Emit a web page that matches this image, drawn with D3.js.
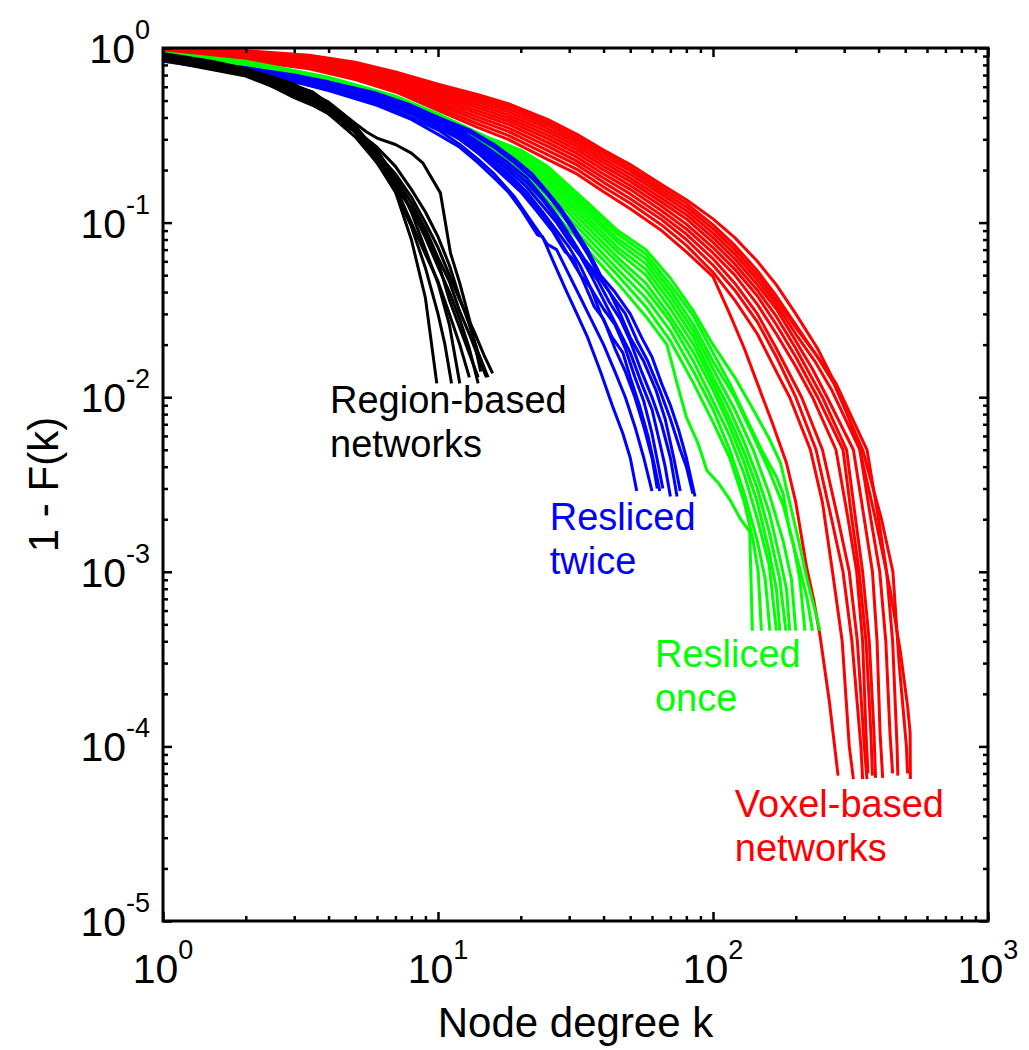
<!DOCTYPE html>
<html>
<head>
<meta charset="utf-8">
<script src="https://cdn.jsdelivr.net/npm/d3@7"></script>
<style>
    body { margin: 0; background: #fff; }
    text { font-family: "Liberation Sans", Arial, sans-serif; }
    .tick line { stroke: #000; stroke-width: 2.5px; }
    .curve { fill: none; stroke-width: 3px; stroke-linejoin: round; stroke-linecap: butt; }
</style>
</head>
<body>
<script>
// Complementary cumulative degree distributions, 1 - F(k).
// Each curve is a list of [k, 1-F(k)] points.

var regionCurves = [
    [[1,.92],[1.5,.82],[2,.74],[2.5,.67],[3,.6],[4,.47],[5,.34],[6,.23],[7,.15],[8,.08],[9,.037],[9.9,.012]],
    [[1,.9],[1.5,.8],[2,.72],[3,.58],[4,.45],[5,.33],[6,.22],[7,.15],[8,.095],[9,.055],[10,.03],[10.6,.02],[11.2,.012]],
    [[1,.86],[1.5,.77],[2,.7],[3,.57],[4,.44],[5,.35],[6,.26],[7,.18],[8,.115],[9,.07],[10,.045],[11,.026],[12,.012]],
    [[1,.93],[1.5,.84],[2,.76],[3,.62],[4,.49],[5,.37],[5.5,.33],[6,.305],[7,.28],[8,.25],[8.8,.22],[10.2,.148],[11.1,.067],[12,.045],[13,.028],[14.3,.014]],
    [[1,.88],[1.5,.79],[2,.71],[2.5,.6],[3,.52],[3.5,.47],[4,.42],[5,.33],[6,.24],[7,.17],[8,.12],[9,.082],[10,.056],[11,.04],[12,.028],[13,.019],[14,.012]],
    [[1,.9],[2,.73],[3,.59],[4,.46],[5,.35],[6,.25],[7,.18],[8,.13],[9,.092],[10,.063],[11,.046],[12,.031],[13,.023],[14,.017],[15,.013]],
    [[1,.87],[2,.7],[3,.55],[4,.43],[5,.33],[6,.25],[7,.19],[8,.14],[9,.1],[10,.072],[11,.05],[12,.036],[13.5,.024],[14.8,.017],[15.8,.0137]],
    [[1,.91],[2,.74],[2.5,.68],[3,.61],[3.5,.56],[4,.48],[5,.36],[6,.25],[7,.16],[8,.1],[9,.066],[10,.046],[11,.03],[12,.02],[13,.013]],
    [[1,.85],[2,.69],[3,.54],[4,.42],[5,.31],[6,.22],[7,.16],[8,.12],[9,.086],[10,.06],[11,.036],[12.5,.021],[14,.013]],
    [[1,.89],[2,.72],[3,.57],[4,.45],[5,.34],[6,.27],[7,.21],[8,.155],[9,.115],[10,.083],[11,.057],[12,.037],[13,.026],[14,.018],[15.2,.013]]
];

var twiceCurves = [
    [[1,.84],[2,.72],[3,.64],[4,.57],[6,.47],[8,.39],[10,.32],[12,.27],[14,.22],[16,.18],[18,.15],[20,.12],[23,.085],[24,.083],[26,.062],[29,.042],[32,.03],[35,.022],[39,.014],[43,.009],[47,.0062],[50,.0045],[52.8,.0029]],
    [[1,.85],[2,.73],[3,.65],[4,.58],[6,.48],[8,.4],[10,.34],[12,.28],[14,.23],[16,.19],[19,.14],[22,.1],[25,.075],[27,.07],[30,.05],[33,.037],[36,.028],[40,.02],[44,.014],[48,.01],[52,.0068],[56,.0045],[60,.0029]],
    [[1,.85],[2,.74],[3,.66],[4,.6],[6,.5],[8,.42],[10,.35],[12,.3],[14,.25],[17,.19],[20,.15],[23,.115],[26,.09],[29,.068],[31,.062],[34,.045],[37,.033],[40,.028],[44,.019],[48,.014],[52,.01],[56,.0068],[60,.0045],[62.7,.003]],
    [[1,.86],[2,.74],[3,.66],[4,.6],[6,.5],[8,.42],[10,.36],[12,.3],[14,.25],[17,.2],[20,.155],[23,.12],[26,.093],[29,.07],[33,.05],[36,.042],[39,.03],[43,.022],[47,.018],[50,.013],[54,.009],[58,.006],[61,.0042],[64,.0029]],
    [[1,.86],[2,.75],[3,.67],[4,.61],[6,.51],[8,.43],[10,.36],[12,.31],[15,.24],[18,.19],[21,.15],[24,.115],[27,.09],[30,.072],[33,.056],[36,.042],[40,.032],[44,.026],[48,.019],[52,.013],[56,.0095],[60,.0062],[63,.0042],[65.7,.003]],
    [[1,.86],[2,.75],[3,.68],[4,.62],[6,.52],[8,.44],[10,.37],[12,.32],[15,.25],[18,.2],[21,.16],[24,.125],[27,.1],[30,.078],[33,.064],[36,.05],[40,.036],[45,.025],[50,.018],[55,.012],[60,.0085],[64,.0055],[67,.004],[70,.0027]],
    [[1,.87],[2,.76],[3,.68],[4,.62],[6,.53],[8,.45],[10,.38],[12,.33],[15,.26],[18,.21],[21,.17],[24,.135],[27,.105],[30,.083],[34,.06],[38,.047],[42,.035],[46,.028],[50,.021],[55,.014],[60,.01],[65,.007],[70,.0045],[74,.0027]],
    [[1,.87],[2,.76],[3,.69],[4,.63],[6,.54],[8,.46],[10,.39],[12,.34],[15,.27],[18,.22],[21,.18],[24,.14],[27,.11],[30,.085],[34,.062],[38,.05],[42,.04],[46,.03],[50,.022],[56,.016],[62,.011],[67,.0075],[72,.0045],[76,.0029]],
    [[1,.87],[2,.77],[3,.69],[4,.63],[6,.54],[8,.46],[10,.4],[13,.33],[16,.27],[19,.22],[22,.18],[25,.145],[28,.115],[31,.09],[35,.066],[39,.048],[43,.038],[48,.03],[53,.021],[58,.016],[64,.011],[70,.0075],[76,.005],[80,.004],[84.5,.0028]],
    [[1,.88],[2,.77],[3,.7],[4,.64],[6,.55],[8,.47],[10,.4],[13,.34],[16,.28],[19,.23],[22,.19],[25,.15],[28,.12],[31,.095],[35,.07],[39,.05],[44,.04],[50,.03],[55,.022],[60,.017],[65,.012],[70,.009],[75,.0065],[80,.0045],[86,.0027]]
];

var onceCurves = [
    [[1,.86],[2,.74],[4,.58],[7,.45],[10,.36],[15,.25],[20,.18],[25,.125],[35,.07],[45,.045],[57,.029],[68,.02],[74,.012],[80,.0077],[88,.0055],[95,.0038],[105,.0032],[115,.0026],[126,.002],[136,.0017],[139,.00046]],
    [[1,.868],[2,.75],[4,.59],[7,.458],[10,.366],[15,.256],[20,.188],[25,.134],[35,.076],[45,.05],[57,.033],[70,.021],[85,.012],[100,.0072],[115,.0045],[130,.0025],[140,.0015],[146,.001],[150,.00046]],
    [[1,.876],[2,.76],[4,.6],[7,.466],[10,.372],[15,.262],[20,.196],[25,.142],[35,.082],[45,.054],[57,.037],[70,.024],[85,.014],[100,.0085],[115,.005],[130,.0028],[145,.0015],[155,.0009],[161,.00046]],
    [[1,.884],[2,.77],[4,.61],[7,.474],[10,.378],[15,.268],[20,.204],[25,.151],[35,.088],[45,.059],[57,.041],[70,.027],[85,.016],[100,.0095],[115,.006],[130,.0036],[145,.002],[160,.0011],[170,.00046]],
    [[1,.892],[2,.78],[4,.62],[7,.482],[10,.384],[15,.274],[20,.212],[25,.159],[35,.094],[45,.063],[57,.045],[70,.029],[85,.018],[100,.011],[115,.0068],[130,.0042],[145,.0025],[160,.0013],[170,.0008],[175,.00046]],
    [[1,.9],[2,.79],[4,.63],[7,.49],[10,.39],[15,.28],[20,.22],[25,.168],[35,.1],[45,.068],[57,.05],[70,.032],[85,.02],[100,.012],[115,.0075],[130,.0048],[145,.003],[160,.0017],[175,.0009],[184,.00046]],
    [[1,.908],[2,.8],[4,.64],[7,.498],[10,.396],[15,.286],[20,.228],[25,.176],[35,.106],[45,.072],[57,.054],[70,.035],[85,.022],[100,.013],[115,.0085],[130,.0055],[145,.0035],[160,.0022],[175,.0012],[185,.0008],[190,.00046]],
    [[1,.916],[2,.81],[4,.65],[7,.506],[10,.402],[15,.292],[20,.236],[25,.185],[35,.112],[45,.077],[57,.058],[70,.038],[85,.024],[100,.0145],[120,.0085],[140,.005],[160,.0028],[180,.0015],[193,.0009],[200,.00046]],
    [[1,.924],[2,.82],[4,.66],[7,.514],[10,.408],[15,.298],[20,.244],[25,.193],[35,.118],[45,.081],[57,.062],[70,.041],[85,.026],[100,.016],[120,.01],[140,.006],[160,.0038],[180,.0024],[195,.0015],[207,.0009],[216,.00046]],
    [[1,.932],[2,.83],[4,.67],[7,.522],[10,.414],[15,.304],[20,.252],[25,.202],[35,.124],[45,.086],[57,.066],[70,.044],[85,.029],[100,.018],[115,.012],[130,.008],[150,.005],[170,.0035],[180,.0028],[190,.0017],[205,.0011],[220,.0007],[230,.00046]],
    [[1,.94],[2,.84],[4,.68],[7,.53],[10,.42],[15,.31],[20,.26],[25,.21],[35,.13],[45,.09],[57,.07],[70,.048],[85,.031],[100,.02],[120,.013],[140,.0085],[160,.0058],[176,.0042],[190,.0025],[205,.0015],[220,.0009],[235,.0006],[245,.00046]]
];

var voxelCurves = [
    [[1,.93],[2,.85],[3.4,.76],[5,.66],[7,.56],[10,.44],[14,.35],[18,.3],[25,.23],[32,.19],[40,.15],[50,.12],[65,.09],[80,.068],[100,.049],[115,.03],[130,.019],[145,.012],[165,.007],[185,.0042],[200,.0025],[219,.00106],[232,.0007],[245,.00043],[265,.00018],[285,.000068]],
    [[1,.935],[2,.86],[3.4,.774],[5,.675],[7,.575],[10,.456],[14,.367],[18,.316],[25,.245],[32,.202],[40,.16],[50,.129],[65,.097],[80,.074],[100,.052],[120,.036],[145,.023],[170,.014],[190,.01],[226,.005],[250,.0025],[272,.001],[295,.0004],[313,.0001],[324,.000065]],
    [[1,.941],[2,.871],[3.4,.787],[5,.691],[7,.591],[10,.473],[14,.385],[18,.333],[25,.259],[32,.214],[40,.17],[50,.137],[65,.104],[80,.08],[100,.057],[120,.041],[145,.027],[170,.017],[200,.01],[237,.005],[270,.002],[297,.001],[320,.0004],[345,.0001],[350,.000065]],
    [[1,.946],[2,.881],[3.4,.801],[5,.706],[7,.606],[10,.489],[14,.402],[18,.349],[25,.274],[32,.225],[40,.18],[50,.146],[65,.11],[80,.086],[100,.062],[120,.045],[145,.03],[170,.019],[210,.01],[250,.005],[285,.002],[313,.001],[335,.0004],[355,.0001],[363,.000065]],
    [[1,.952],[2,.892],[3.4,.815],[5,.722],[7,.622],[10,.506],[14,.419],[18,.366],[25,.288],[32,.237],[40,.19],[50,.155],[65,.117],[80,.092],[100,.067],[120,.05],[145,.034],[170,.023],[200,.015],[230,.01],[280,.005],[310,.002],[333,.001],[350,.0004],[360,.00012],[366,.00007]],
    [[1,.957],[2,.902],[3.4,.828],[5,.737],[7,.637],[10,.522],[14,.436],[18,.382],[25,.303],[32,.249],[40,.2],[50,.163],[65,.124],[80,.098],[100,.072],[120,.054],[145,.038],[170,.026],[200,.017],[240,.01],[297,.005],[320,.002],[340,.001],[360,.0004],[375,.00012],[380,.000068]],
    [[1,.963],[2,.913],[3.4,.842],[5,.753],[7,.653],[10,.538],[14,.454],[18,.398],[25,.317],[32,.261],[40,.21],[50,.172],[65,.131],[80,.105],[100,.077],[120,.058],[145,.041],[170,.029],[200,.019],[250,.01],[306,.005],[330,.002],[350,.001],[370,.0004],[385,.00012],[390,.000066]],
    [[1,.968],[2,.923],[3.4,.855],[5,.768],[7,.668],[10,.555],[14,.471],[18,.414],[25,.332],[32,.273],[40,.22],[50,.18],[65,.138],[80,.111],[100,.082],[120,.062],[145,.044],[170,.032],[200,.021],[230,.0145],[260,.01],[324,.005],[355,.002],[380,.001],[395,.0004],[405,.00012],[414,.000066]],
    [[1,.974],[2,.934],[3.4,.869],[5,.784],[7,.684],[10,.571],[14,.488],[18,.431],[25,.346],[32,.285],[40,.23],[50,.189],[65,.145],[80,.117],[100,.087],[120,.066],[145,.047],[170,.034],[200,.023],[235,.016],[270,.011],[342,.005],[375,.002],[404,.001],[425,.0004],[440,.00012],[450,.00007]],
    [[1,.979],[2,.944],[3.4,.883],[5,.799],[7,.699],[10,.587],[14,.505],[18,.447],[25,.361],[32,.296],[40,.24],[50,.198],[65,.151],[80,.123],[100,.092],[120,.07],[145,.05],[170,.036],[200,.025],[240,.017],[280,.012],[363,.005],[400,.002],[428,.001],[450,.0004],[467,.0001],[470,.000068]],
    [[1,.985],[2,.955],[3.4,.896],[5,.815],[7,.715],[10,.604],[14,.523],[18,.464],[25,.375],[32,.308],[40,.25],[50,.206],[65,.158],[80,.129],[100,.097],[120,.074],[145,.053],[170,.038],[200,.026],[240,.017],[275,.012],[350,.005],[410,.002],[451,.001],[475,.0003],[505,.0001],[510,.00007]],
    [[1,.99],[2,.965],[3.4,.91],[5,.83],[7,.73],[10,.62],[14,.54],[18,.48],[25,.39],[32,.32],[40,.26],[50,.215],[65,.165],[80,.135],[100,.105],[120,.082],[145,.06],[170,.044],[200,.03],[240,.019],[290,.0105],[340,.0052],[390,.002],[440,.0008],[480,.00035],[510,.00017],[521,.00012],[522,.000065]]
];

var xMajor = [1, 10, 100, 1000];
var xExponents = ["0", "1", "2", "3"];
var yMajor = [1e-5, 1e-4, 1e-3, 1e-2, 1e-1, 1];
var yExponents = ["-5", "-4", "-3", "-2", "-1", "0"];

// annotation text, one entry per bundle, anchored at the first baseline in data units
var labels = [
    { lines: ["Region-based", "networks"], color: "#000000", k: 4.05, p: 0.0081 },
    { lines: ["Resliced", "twice"], color: "#0000ff", k: 25.5, p: 0.00173 },
    { lines: ["Resliced", "once"], color: "#00ff00", k: 61.5, p: 0.000285 },
    { lines: ["Voxel-based", "networks"], color: "#ff0000", k: 120, p: 0.0000394 }
];

var width = 1029, height = 1050;
var plot = { left: 163, right: 988, top: 48, bottom: 921 };

var x = d3.scaleLog().domain([1, 1000]).range([plot.left, plot.right]);
var y = d3.scaleLog().domain([1e-5, 1]).range([plot.bottom, plot.top]);

var svg = d3.select("body").append("svg")
    .attr("width", width)
    .attr("height", height);

// minor ticks at 2..9 of every decade
function minorTicks(lo, hi) {
    var out = [];
    for (var e = lo; e < hi; e++) {
        for (var m = 2; m <= 9; m++) out.push(m * Math.pow(10, e));
    }
    return out;
}
var xMinor = minorTicks(0, 3);
var yMinor = minorTicks(-5, 0);

// ---- curves ----
var line = d3.line()
    .x(function (d) { return x(d[0]); })
    .y(function (d) { return y(d[1]); });

var groups = [
    { data: voxelCurves, color: "#ff0000" },
    { data: onceCurves, color: "#00ff00" },
    { data: twiceCurves, color: "#0000ff" },
    { data: regionCurves, color: "#000000" }
];

groups.forEach(function (g) {
    svg.append("g").selectAll("path")
        .data(g.data)
        .enter().append("path")
        .attr("class", "curve")
        .attr("stroke", g.color)
        .attr("d", line);
});

// ---- ticks (inward, all four sides) ----
function drawTicks(axis, values, size, transform) {
    var g = svg.append("g")
        .attr("transform", transform)
        .call(axis.tickValues(values).tickSize(-size).tickFormat(""));
    g.select(".domain").remove();
}
drawTicks(d3.axisBottom(x), xMajor, 9, "translate(0," + plot.bottom + ")");
drawTicks(d3.axisBottom(x), xMinor, 5, "translate(0," + plot.bottom + ")");
drawTicks(d3.axisTop(x), xMajor, 9, "translate(0," + plot.top + ")");
drawTicks(d3.axisTop(x), xMinor, 5, "translate(0," + plot.top + ")");
drawTicks(d3.axisLeft(y), yMajor, 9, "translate(" + plot.left + ",0)");
drawTicks(d3.axisLeft(y), yMinor, 5, "translate(" + plot.left + ",0)");
drawTicks(d3.axisRight(y), yMajor, 9, "translate(" + plot.right + ",0)");
drawTicks(d3.axisRight(y), yMinor, 5, "translate(" + plot.right + ",0)");

// frame
svg.append("rect")
    .attr("x", plot.left).attr("y", plot.top)
    .attr("width", plot.right - plot.left)
    .attr("height", plot.bottom - plot.top)
    .attr("fill", "none")
    .attr("stroke", "#000")
    .attr("stroke-width", 3);

// ---- tick labels, 10 with superscript exponent ----
var xl = svg.append("g").selectAll("text")
    .data(xMajor)
    .enter().append("text")
    .attr("x", function (d) { return x(d); })
    .attr("y", 983)
    .attr("text-anchor", "middle")
    .attr("font-size", 41);
xl.append("tspan").text("10");
xl.append("tspan").attr("dy", -24).attr("font-size", 27)
    .text(function (d, i) { return xExponents[i]; });

var yl = svg.append("g").selectAll("text")
    .data(yMajor)
    .enter().append("text")
    .attr("x", 150)
    .attr("y", function (d) { return y(d) + 15; })
    .attr("text-anchor", "end")
    .attr("font-size", 41);
yl.append("tspan").text("10");
yl.append("tspan").attr("dy", -24).attr("font-size", 27)
    .text(function (d, i) { return yExponents[i]; });

// ---- axis titles ----
svg.append("text")
    .attr("x", (plot.left + plot.right) / 2)
    .attr("y", 1037)
    .attr("text-anchor", "middle")
    .attr("font-size", 42)
    .text("Node degree k");

svg.append("text")
    .attr("transform", "translate(58," + (plot.top + plot.bottom) / 2 + ") rotate(-90)")
    .attr("text-anchor", "middle")
    .attr("font-size", 42)
    .text("1 - F(k)");

// ---- bundle annotations ----
labels.forEach(function (l) {
    var t = svg.append("text")
        .attr("x", x(l.k))
        .attr("y", y(l.p))
        .attr("fill", l.color)
        .attr("font-size", 38);
    l.lines.forEach(function (s, i) {
        t.append("tspan")
            .attr("x", x(l.k))
            .attr("dy", i === 0 ? 0 : 44)
            .text(s);
    });
});
</script>
</body>
</html>
